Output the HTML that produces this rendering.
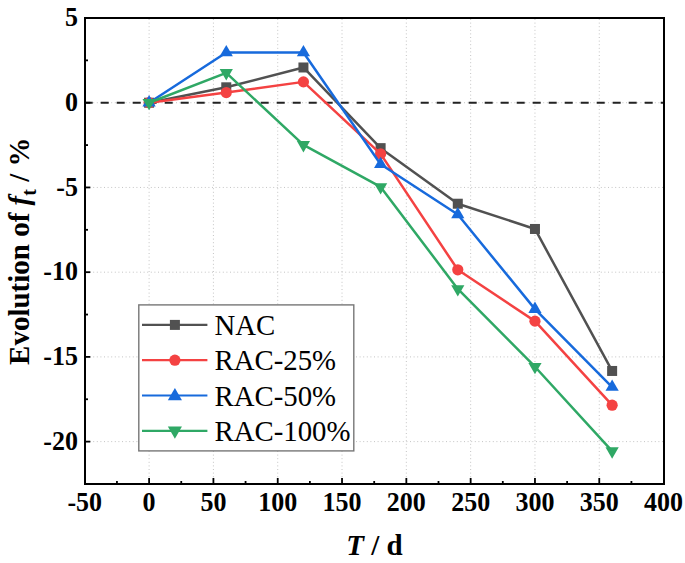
<!DOCTYPE html>
<html><head><meta charset="utf-8"><style>
html,body{margin:0;padding:0;background:#fff;}
body{width:685px;height:563px;overflow:hidden;}
svg{display:block;}
text{font-family:"Liberation Serif",serif;}
</style></head><body>
<svg width="685" height="563" viewBox="0 0 685 563">
<rect width="685" height="563" fill="#fff"/>
<g stroke="#c4c4c4" stroke-width="1" stroke-dasharray="1 2.6"><line x1="149.10" y1="19" x2="149.10" y2="483" /><line x1="213.41" y1="19" x2="213.41" y2="483" /><line x1="277.72" y1="19" x2="277.72" y2="483" /><line x1="342.03" y1="19" x2="342.03" y2="483" /><line x1="406.34" y1="19" x2="406.34" y2="483" /><line x1="470.65" y1="19" x2="470.65" y2="483" /><line x1="534.96" y1="19" x2="534.96" y2="483" /><line x1="599.27" y1="19" x2="599.27" y2="483" /><line x1="86" y1="102.72" x2="663" y2="102.72" /><line x1="86" y1="187.45" x2="663" y2="187.45" /><line x1="86" y1="272.18" x2="663" y2="272.18" /><line x1="86" y1="356.90" x2="663" y2="356.90" /><line x1="86" y1="441.62" x2="663" y2="441.62" /></g>
<line x1="84.7" y1="102.72" x2="664" y2="102.72" stroke="#222" stroke-width="2" stroke-dasharray="8 8"/>
<g stroke="#000" stroke-width="1.8"><line x1="149.10" y1="484" x2="149.10" y2="478"/><line x1="213.41" y1="484" x2="213.41" y2="478"/><line x1="277.72" y1="484" x2="277.72" y2="478"/><line x1="342.03" y1="484" x2="342.03" y2="478"/><line x1="406.34" y1="484" x2="406.34" y2="478"/><line x1="470.65" y1="484" x2="470.65" y2="478"/><line x1="534.96" y1="484" x2="534.96" y2="478"/><line x1="599.27" y1="484" x2="599.27" y2="478"/><line x1="116.94" y1="484" x2="116.94" y2="481"/><line x1="181.25" y1="484" x2="181.25" y2="481"/><line x1="245.56" y1="484" x2="245.56" y2="481"/><line x1="309.88" y1="484" x2="309.88" y2="481"/><line x1="374.19" y1="484" x2="374.19" y2="481"/><line x1="438.50" y1="484" x2="438.50" y2="481"/><line x1="502.80" y1="484" x2="502.80" y2="481"/><line x1="567.12" y1="484" x2="567.12" y2="481"/><line x1="631.42" y1="484" x2="631.42" y2="481"/><line x1="85" y1="18.00" x2="90.3" y2="18.00"/><line x1="85" y1="102.72" x2="90.3" y2="102.72"/><line x1="85" y1="187.45" x2="90.3" y2="187.45"/><line x1="85" y1="272.18" x2="90.3" y2="272.18"/><line x1="85" y1="356.90" x2="90.3" y2="356.90"/><line x1="85" y1="441.62" x2="90.3" y2="441.62"/><line x1="85" y1="60.36" x2="88" y2="60.36"/><line x1="85" y1="145.09" x2="88" y2="145.09"/><line x1="85" y1="229.81" x2="88" y2="229.81"/><line x1="85" y1="314.54" x2="88" y2="314.54"/><line x1="85" y1="399.26" x2="88" y2="399.26"/><line x1="85" y1="483.99" x2="88" y2="483.99"/></g>
<polyline points="149.10,102.72 226.27,87.31 303.44,67.48 380.62,148.14 457.79,203.72 534.96,228.97 612.13,370.96" fill="none" stroke="#515151" stroke-width="2.5" stroke-linejoin="round"/>
<rect x="144.10" y="97.72" width="10.00" height="10.00" fill="#515151"/><rect x="221.27" y="82.31" width="10.00" height="10.00" fill="#515151"/><rect x="298.44" y="62.48" width="10.00" height="10.00" fill="#515151"/><rect x="375.62" y="143.14" width="10.00" height="10.00" fill="#515151"/><rect x="452.79" y="198.72" width="10.00" height="10.00" fill="#515151"/><rect x="529.96" y="223.97" width="10.00" height="10.00" fill="#515151"/><rect x="607.13" y="365.96" width="10.00" height="10.00" fill="#515151"/>
<polyline points="149.10,102.72 226.27,92.56 303.44,81.88 380.62,153.90 457.79,269.80 534.96,321.15 612.13,405.19" fill="none" stroke="#f44242" stroke-width="2.5" stroke-linejoin="round"/>
<circle cx="149.10" cy="102.72" r="5.60" fill="#f44242"/><circle cx="226.27" cy="92.56" r="5.60" fill="#f44242"/><circle cx="303.44" cy="81.88" r="5.60" fill="#f44242"/><circle cx="380.62" cy="153.90" r="5.60" fill="#f44242"/><circle cx="457.79" cy="269.80" r="5.60" fill="#f44242"/><circle cx="534.96" cy="321.15" r="5.60" fill="#f44242"/><circle cx="612.13" cy="405.19" r="5.60" fill="#f44242"/>
<polyline points="149.10,102.72 226.27,52.57 303.44,52.57 380.62,164.24 457.79,214.56 534.96,309.12 612.13,387.06" fill="none" stroke="#176adc" stroke-width="2.5" stroke-linejoin="round"/>
<polygon points="149.10,95.12 155.70,106.52 142.50,106.52" fill="#176adc"/><polygon points="226.27,44.97 232.87,56.37 219.67,56.37" fill="#176adc"/><polygon points="303.44,44.97 310.04,56.37 296.84,56.37" fill="#176adc"/><polygon points="380.62,156.64 387.22,168.04 374.02,168.04" fill="#176adc"/><polygon points="457.79,206.96 464.39,218.36 451.19,218.36" fill="#176adc"/><polygon points="534.96,301.52 541.56,312.92 528.36,312.92" fill="#176adc"/><polygon points="612.13,379.46 618.73,390.86 605.53,390.86" fill="#176adc"/>
<polyline points="149.10,102.72 226.27,72.90 303.44,144.92 380.62,186.94 457.79,288.95 534.96,366.73 612.13,451.11" fill="none" stroke="#2fa865" stroke-width="2.5" stroke-linejoin="round"/>
<polygon points="142.50,98.92 155.70,98.92 149.10,110.32" fill="#2fa865"/><polygon points="219.67,69.10 232.87,69.10 226.27,80.50" fill="#2fa865"/><polygon points="296.84,141.12 310.04,141.12 303.44,152.52" fill="#2fa865"/><polygon points="374.02,183.14 387.22,183.14 380.62,194.54" fill="#2fa865"/><polygon points="451.19,285.15 464.39,285.15 457.79,296.55" fill="#2fa865"/><polygon points="528.36,362.93 541.56,362.93 534.96,374.33" fill="#2fa865"/><polygon points="605.53,447.31 618.73,447.31 612.13,458.71" fill="#2fa865"/>
<rect x="85" y="18" width="579" height="466" fill="none" stroke="#000" stroke-width="2"/>
<g font-family="Liberation Serif" font-weight="bold" font-size="26" fill="#000"><text transform="translate(84.79,511.2) scale(1,1.065)" text-anchor="middle">-50</text><text transform="translate(149.10,511.2) scale(1,1.065)" text-anchor="middle">0</text><text transform="translate(213.41,511.2) scale(1,1.065)" text-anchor="middle">50</text><text transform="translate(277.72,511.2) scale(1,1.065)" text-anchor="middle">100</text><text transform="translate(342.03,511.2) scale(1,1.065)" text-anchor="middle">150</text><text transform="translate(406.34,511.2) scale(1,1.065)" text-anchor="middle">200</text><text transform="translate(470.65,511.2) scale(1,1.065)" text-anchor="middle">250</text><text transform="translate(534.96,511.2) scale(1,1.065)" text-anchor="middle">300</text><text transform="translate(599.27,511.2) scale(1,1.065)" text-anchor="middle">350</text><text transform="translate(663.58,511.2) scale(1,1.065)" text-anchor="middle">400</text><text transform="translate(78,26.30) scale(1,1.065)" text-anchor="end">5</text><text transform="translate(78,111.02) scale(1,1.065)" text-anchor="end">0</text><text transform="translate(78,195.75) scale(1,1.065)" text-anchor="end">-5</text><text transform="translate(78,280.48) scale(1,1.065)" text-anchor="end">-10</text><text transform="translate(78,365.20) scale(1,1.065)" text-anchor="end">-15</text><text transform="translate(78,449.93) scale(1,1.065)" text-anchor="end">-20</text></g>
<text x="374.4" y="554.6" text-anchor="middle" font-family="Liberation Serif" font-weight="bold" font-size="29"><tspan font-style="italic">T</tspan> / d</text>
<text transform="translate(29,251.2) rotate(-90)" text-anchor="middle" font-family="Liberation Serif" font-weight="bold" font-size="29">Evolution of <tspan font-style="italic">f</tspan><tspan font-size="20" dy="6.7">t</tspan><tspan dy="-6.7"> / %</tspan></text>
<rect x="138.8" y="304.9" width="215" height="146" fill="#fff" stroke="#777" stroke-width="1.4"/><line x1="142" y1="324.90" x2="207.4" y2="324.90" stroke="#515151" stroke-width="2.2"/><rect x="169.90" y="319.90" width="10.00" height="10.00" fill="#515151"/><text x="214.5" y="335.00" font-family="Liberation Serif" font-size="28.8" fill="#000">NAC</text><line x1="142" y1="360.20" x2="207.4" y2="360.20" stroke="#f44242" stroke-width="2.2"/><circle cx="174.90" cy="360.20" r="5.60" fill="#f44242"/><text x="214.5" y="370.30" font-family="Liberation Serif" font-size="28.8" fill="#000">RAC-25%</text><line x1="142" y1="395.50" x2="207.4" y2="395.50" stroke="#176adc" stroke-width="2.2"/><polygon points="174.90,387.97 181.96,400.17 167.84,400.17" fill="#176adc"/><text x="214.5" y="405.60" font-family="Liberation Serif" font-size="28.8" fill="#000">RAC-50%</text><line x1="142" y1="430.80" x2="207.4" y2="430.80" stroke="#2fa865" stroke-width="2.2"/><polygon points="167.84,426.43 181.96,426.43 174.90,438.63" fill="#2fa865"/><text x="214.5" y="440.90" font-family="Liberation Serif" font-size="28.8" fill="#000">RAC-100%</text>
</svg>
</body></html>
